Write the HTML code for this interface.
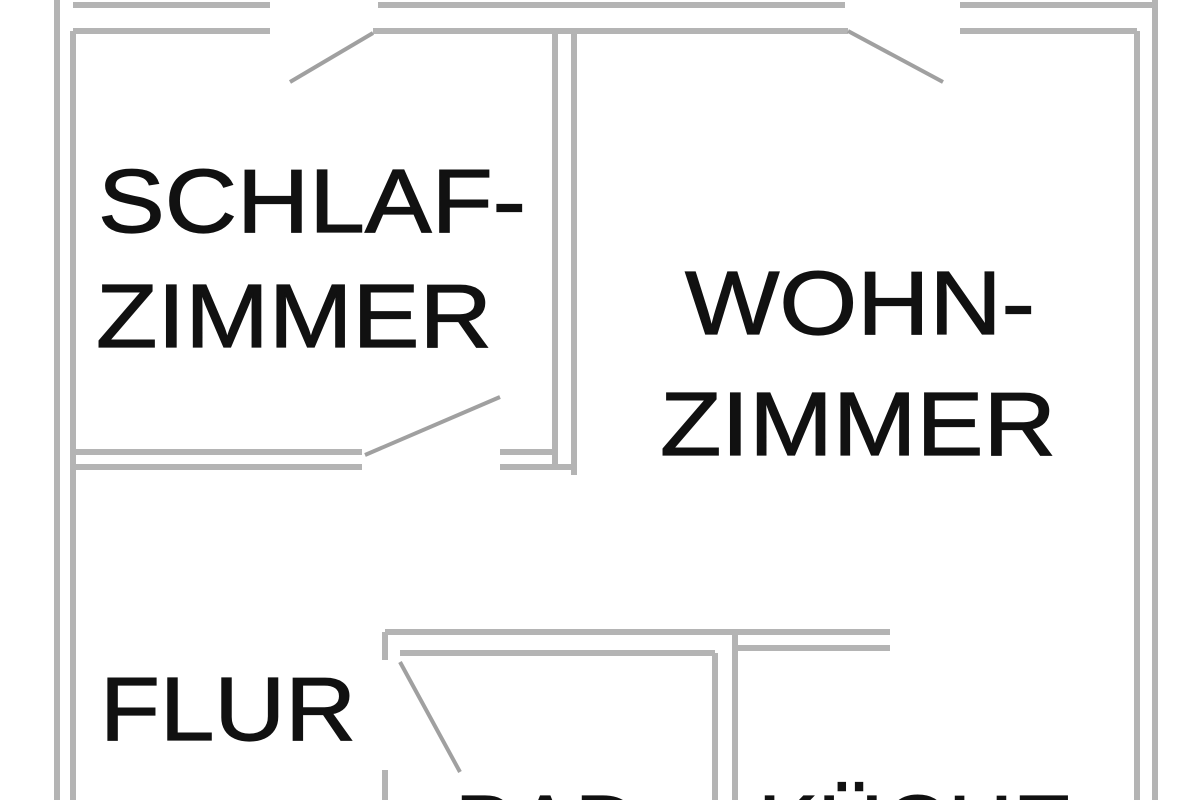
<!DOCTYPE html>
<html><head><meta charset="utf-8"><style>
html,body{margin:0;padding:0;background:#fff;width:1200px;height:800px;overflow:hidden}
svg{display:block}
</style></head><body>
<svg width="1200" height="800" viewBox="0 0 1200 800" xmlns="http://www.w3.org/2000/svg" overflow="hidden">
<g stroke="#b4b4b4" stroke-width="6" fill="none" stroke-linecap="butt">
<line x1="57" y1="0" x2="57" y2="800"/>
<line x1="73" y1="31" x2="73" y2="800"/>
<line x1="73" y1="5" x2="270" y2="5"/>
<line x1="378" y1="5" x2="845" y2="5"/>
<line x1="960" y1="5" x2="1155" y2="5"/>
<line x1="73" y1="31" x2="270" y2="31"/>
<line x1="373" y1="31" x2="848" y2="31"/>
<line x1="960" y1="31" x2="1137" y2="31"/>
<line x1="1137" y1="31" x2="1137" y2="800"/>
<line x1="1155" y1="0" x2="1155" y2="800"/>
<line x1="555" y1="31" x2="555" y2="470"/>
<line x1="574" y1="31" x2="574" y2="475"/>
<line x1="73" y1="452" x2="362" y2="452"/>
<line x1="73" y1="467" x2="362" y2="467"/>
<line x1="500" y1="452" x2="555" y2="452"/>
<line x1="500" y1="467" x2="574" y2="467"/>
<line x1="385" y1="632" x2="890" y2="632"/>
<line x1="735" y1="648" x2="890" y2="648"/>
<line x1="400" y1="653" x2="715" y2="653"/>
<line x1="385" y1="632" x2="385" y2="660"/>
<line x1="385" y1="770" x2="385" y2="800"/>
<line x1="715" y1="653" x2="715" y2="800"/>
<line x1="735" y1="632" x2="735" y2="800"/>
</g>
<g stroke="#a0a0a0" stroke-width="4">
<line x1="373" y1="33" x2="290" y2="82"/>
<line x1="848" y1="31" x2="943" y2="82"/>
<line x1="365" y1="455" x2="500" y2="397"/>
<line x1="400" y1="662" x2="460" y2="772"/>
</g>
<g font-family="Liberation Sans, sans-serif" font-size="90" fill="#111" stroke="#111" stroke-width="1.2">
<text x="98" y="232" textLength="428" lengthAdjust="spacingAndGlyphs">SCHLAF-</text>
<text x="96" y="347" textLength="396" lengthAdjust="spacingAndGlyphs">ZIMMER</text>
<text x="685" y="334" textLength="350" lengthAdjust="spacingAndGlyphs">WOHN-</text>
<text x="660" y="455" textLength="396" lengthAdjust="spacingAndGlyphs">ZIMMER</text>
<text x="100" y="740" textLength="256" lengthAdjust="spacingAndGlyphs">FLUR</text>
<text x="455" y="858">BAD</text>
<text x="758" y="858">KÜCHE</text>
</g>
</svg>
</body></html>
